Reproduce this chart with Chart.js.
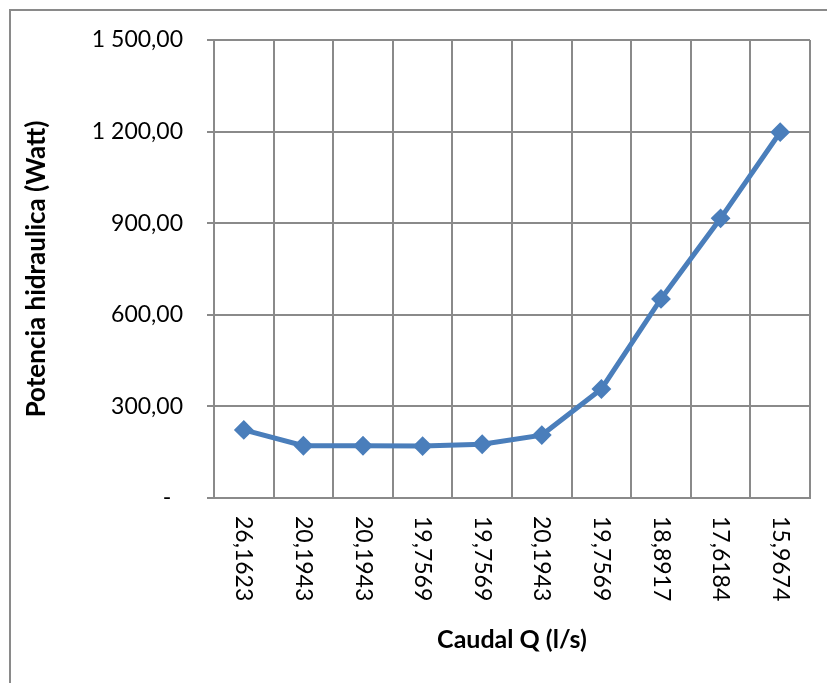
<!DOCTYPE html>
<html>
<head>
<meta charset="utf-8">
<script src="https://cdn.jsdelivr.net/npm/chart.js@4/dist/chart.umd.min.js"></script>
<style>
  html, body { margin: 0; padding: 0; background: #fff; overflow: hidden; }
  #wrap { position: relative; width: 827px; height: 683px; }
  #frame { position: absolute; left: 9px; top: 9px; width: 900px; height: 800px; border: 2px solid #8a8a8a; }
  canvas { position: absolute; left: 0; top: 0; }
</style>
</head>
<body>
<div id="wrap">
  <div id="frame"></div>
  <canvas id="chart" width="827" height="683"></canvas>
</div>
<script>
// Caudal Q (l/s) — categories as shown on the x axis
const caudalLabels = ['26,1623', '20,1943', '20,1943', '19,7569', '19,7569',
                      '20,1943', '19,7569', '18,8917', '17,6184', '15,9674'];
// Potencia hidraulica (Watt)
const potencia = [223, 171, 171, 170, 176, 206, 357, 652, 916, 1198];
// y tick labels, 0 to 1500 by 300
const yTickLabels = ['-  ', '300,00', '600,00', '900,00', '1 200,00', '1 500,00'];

const FONT = 'Lato';
const blue = '#4A7EBB';
const gridGray = '#8a8a8a';

// x tick labels rotated 90° clockwise, like the original
const rotatedLabels = {
  id: 'rotatedLabels',
  afterDraw(chart) {
    const ctx = chart.ctx;
    const xs = chart.scales.x;
    ctx.save();
    ctx.font = '23px ' + FONT;
    ctx.fillStyle = '#000';
    ctx.textAlign = 'left';
    ctx.textBaseline = 'middle';
    caudalLabels.forEach((lab, i) => {
      const x = xs.getPixelForValue(i);
      ctx.save();
      ctx.translate(x, chart.chartArea.bottom + 18);
      ctx.rotate(Math.PI / 2);
      ctx.fillText(lab, 0, 0);
      ctx.restore();
    });
    ctx.restore();
  }
};

new Chart(document.getElementById('chart').getContext('2d'), {
  type: 'line',
  data: {
    labels: caudalLabels,
    datasets: [{
      data: potencia,
      borderColor: blue,
      backgroundColor: blue,
      borderWidth: 5,
      pointStyle: 'rectRot',
      pointRadius: 8.5,
      pointBorderWidth: 2,
      pointBackgroundColor: blue,
      pointBorderColor: blue,
      tension: 0,
    }],
  },
  options: {
    responsive: false,
    animation: false,
    events: [],
    layout: { padding: { left: 0, top: 40, right: 17, bottom: 0 } },
    plugins: {
      legend: { display: false },
      tooltip: { enabled: false },
    },
    scales: {
      x: {
        offset: true,
        grid: { offset: true, color: gridGray, lineWidth: 2, drawTicks: false },
        border: { display: true, color: gridGray, width: 2 },
        ticks: { display: false },
        title: {
          display: true,
          text: 'Caudal Q (l/s)',
          color: '#000',
          font: { family: FONT, size: 25, weight: 'bold' },
          padding: { top: 0, bottom: 28 },
        },
        afterFit(scale) { scale.height = 185; },
      },
      y: {
        min: 0,
        max: 1500,
        ticks: {
          stepSize: 300,
          color: '#000',
          padding: 24,
          font: { family: FONT, size: 23 },
          callback: (v, i) => yTickLabels[i],
        },
        grid: { color: gridGray, lineWidth: 2, tickLength: 7, drawTicks: true },
        border: { display: true, color: gridGray, width: 2 },
        title: {
          display: true,
          text: 'Potencia hidraulica (Watt)',
          color: '#000',
          font: { family: FONT, size: 26, weight: 'bold' },
          padding: { top: 21, bottom: 0 },
        },
        afterFit(scale) { scale.width = 214; },
      },
    },
  },
  plugins: [rotatedLabels],
});
</script>
</body>
</html>
